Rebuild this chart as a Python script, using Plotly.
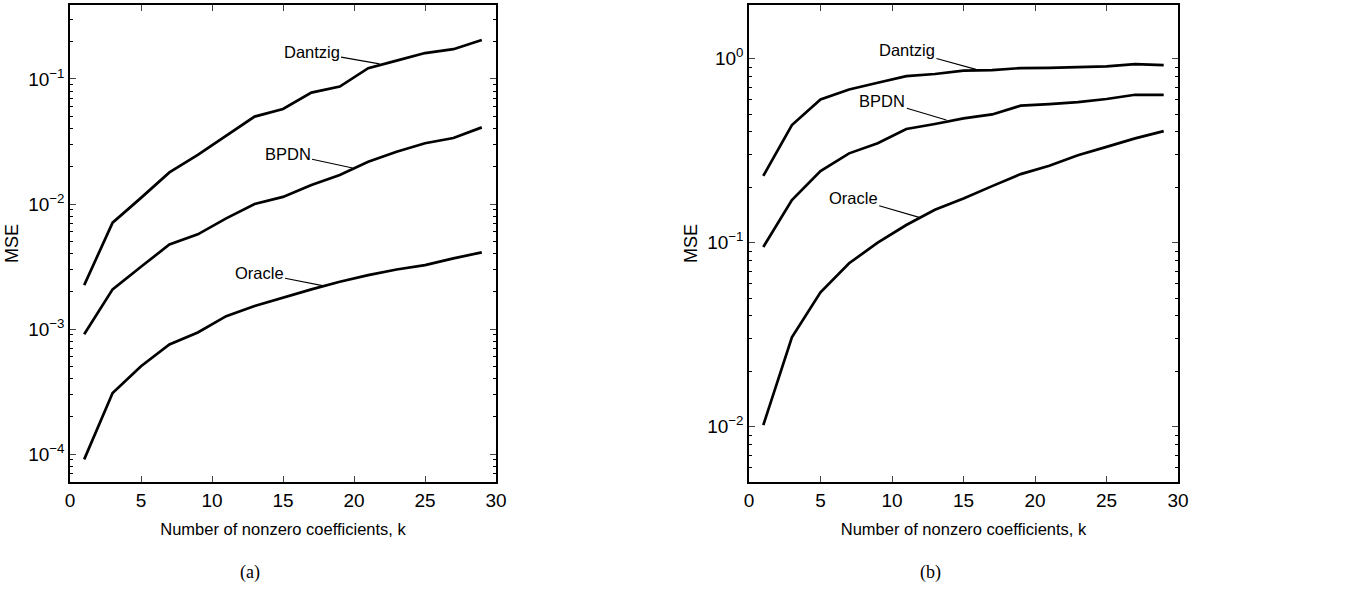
import plotly.graph_objects as go
import math

k = [1, 3, 5, 7, 9, 11, 13, 15, 17, 19, 21, 23, 25, 27, 29]

# Panel (a)
dantzig_a = [0.00225, 0.0071, 0.0112, 0.0179, 0.0247, 0.035, 0.050, 0.0575, 0.0777, 0.0869, 0.122, 0.140, 0.161, 0.173, 0.205]
bpdn_a = [0.00091, 0.00208, 0.00315, 0.00475, 0.00572, 0.00768, 0.0100, 0.0114, 0.0142, 0.0171, 0.0218, 0.0262, 0.0306, 0.0337, 0.041]
oracle_a = [0.000091, 0.000309, 0.000506, 0.000755, 0.00094, 0.00127, 0.00153, 0.00179, 0.00208, 0.00239, 0.00270, 0.0030, 0.00325, 0.00368, 0.00411]

# Panel (b)
dantzig_b = [0.231, 0.436, 0.601, 0.681, 0.741, 0.805, 0.826, 0.861, 0.868, 0.890, 0.893, 0.905, 0.909, 0.935, 0.924]
bpdn_b = [0.0947, 0.1706, 0.245, 0.306, 0.347, 0.415, 0.442, 0.474, 0.498, 0.556, 0.567, 0.581, 0.604, 0.637, 0.637]
oracle_b = [0.0102, 0.0306, 0.0537, 0.0773, 0.100, 0.1248, 0.151, 0.174, 0.203, 0.236, 0.262, 0.299, 0.332, 0.369, 0.404]

xticks = [0, 5, 10, 15, 20, 25, 30]
yticks_a = [1e-4, 1e-3, 1e-2, 1e-1]
yticks_a_text = ["10<sup>\u22124</sup>", "10<sup>\u22123</sup>", "10<sup>\u22122</sup>", "10<sup>\u22121</sup>"]
yticks_b = [1e-2, 1e-1, 1]
yticks_b_text = ["10<sup>\u22122</sup>", "10<sup>\u22121</sup>", "10<sup>0</sup>"]

FONT = "Liberation Sans, Arial, sans-serif"
SERIF = "Liberation Serif, Times New Roman, serif"
line = dict(color="black", width=2.7)

fig = go.Figure()
for s in [dantzig_a, bpdn_a, oracle_a]:
    fig.add_trace(go.Scatter(x=k, y=s, mode="lines", line=line, xaxis="x", yaxis="y", showlegend=False))
for s in [dantzig_b, bpdn_b, oracle_b]:
    fig.add_trace(go.Scatter(x=k, y=s, mode="lines", line=line, xaxis="x2", yaxis="y2", showlegend=False))

W, H = 1355, 589


def px(x):
    return x / W


def py(y):
    return (H - y) / H


ydom = [py(482), py(5)]

common_x = dict(range=[0, 30], tickvals=xticks, ticks="inside", ticklen=6, tickwidth=1,
                showline=True, linewidth=1.5, linecolor="black", mirror="ticks", automargin=False,
                showgrid=False, zeroline=False, tickfont=dict(size=19, family=FONT, color="black"),
                title=dict(text="Number of nonzero coefficients, k", font=dict(size=16.5, family=FONT, color="black"), standoff=14))
common_y = dict(type="log", ticks="inside", ticklen=6, tickwidth=1, automargin=False,
                showline=True, linewidth=1.5, linecolor="black", mirror="ticks",
                showgrid=False, zeroline=False, tickfont=dict(size=19, family=FONT, color="black"),
                minor=dict(ticks="inside", ticklen=3, tickwidth=1, tickcolor="black", dtick="D1", showgrid=False),
                title=dict(text="MSE", font=dict(size=18, family=FONT, color="black"), standoff=5))

fig.update_layout(
    width=W, height=H,
    margin=dict(l=0, r=0, t=0, b=0),
    paper_bgcolor="white", plot_bgcolor="white",
    xaxis=dict(domain=[px(70), px(496)], anchor="y", **common_x),
    yaxis=dict(domain=ydom, anchor="x", range=[math.log10(6e-5), math.log10(0.39)],
               tickvals=yticks_a, ticktext=yticks_a_text, **common_y),
    xaxis2=dict(domain=[px(749), px(1178)], anchor="y2", **common_x),
    yaxis2=dict(domain=ydom, anchor="x2", range=[math.log10(5e-3), math.log10(1.96)],
                tickvals=yticks_b, ticktext=yticks_b_text, **common_y),
)

labels = [
    ("x", "y", "Dantzig", 21.8, -0.88, -68, -12),
    ("x", "y", "BPDN", 19.9, -1.712, -65, -14),
    ("x", "y", "Oracle", 17.96, -2.656, -66, -13),
    ("x2", "y2", "Dantzig", 15.87, -0.0576, -69, -19),
    ("x2", "y2", "BPDN", 13.8, -0.333, -64, -19),
    ("x2", "y2", "Oracle", 11.9, -0.862, -66, -19),
]
for xr, yr, txt, xv, yv, ax, ay in labels:
    fig.add_annotation(xref=xr, yref=yr, x=xv, y=yv, text=txt, showarrow=True,
                       arrowhead=0, arrowwidth=1.2, arrowcolor="black", ax=ax, ay=ay,
                       font=dict(size=16.5, family=FONT, color="black"), standoff=0)

fig.add_annotation(xref="paper", yref="paper", x=px(250), y=py(572), text="(a)", showarrow=False,
                   xanchor="center", yanchor="middle", font=dict(size=18, family=SERIF, color="black"))
fig.add_annotation(xref="paper", yref="paper", x=px(930), y=py(572), text="(b)", showarrow=False,
                   xanchor="center", yanchor="middle", font=dict(size=18, family=SERIF, color="black"))

fig.write_html("out.html", config={"displayModeBar": False},
               post_script="document.body.style.margin='0';document.body.style.overflow='hidden';")
